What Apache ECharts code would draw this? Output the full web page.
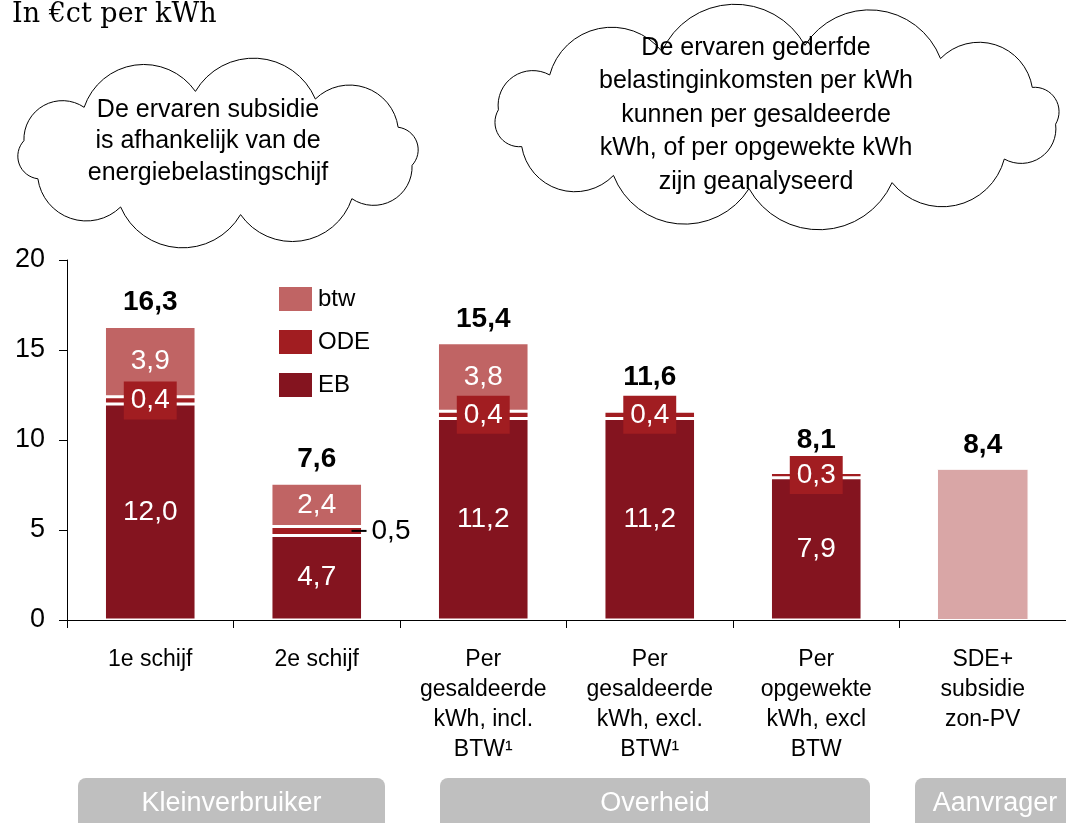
<!DOCTYPE html>
<html>
<head>
<meta charset="utf-8">
<script src="https://cdn.jsdelivr.net/npm/echarts@6/dist/echarts.min.js"></script>
<style>
  html, body { margin: 0; padding: 0; background: #fff; }
  #chart { width: 1066px; height: 823px; }
</style>
</head>
<body>
<div id="chart"></div>
<script>
// Data
const categories = [
  "1e schijf",
  "2e schijf",
  "Per\ngesaldeerde\nkWh, incl.\nBTW¹",
  "Per\ngesaldeerde\nkWh, excl.\nBTW¹",
  "Per\nopgewekte\nkWh, excl\nBTW",
  "SDE+\nsubsidie\nzon-PV"
];
const eb = [12.0, 4.7, 11.2, 11.2, 7.9, null];
const ode = [0.4, 0.5, 0.4, 0.4, 0.3, null];
const btw = [3.9, 2.4, 3.8, null, null, null];
const sde = [null, null, null, null, null, 8.4];
const totals = [16.3, 7.6, 15.4, 11.6, 8.1, 8.4];
const yTicks = { min: 0, max: 20, interval: 5 };

const c_eb = "#84141f";
const c_ode = "#a11d21";
const c_btw = "#c06464";
const c_sde = "#d9a6a6";
const font = "Liberation Sans, Arial, sans-serif";

// Dutch decimal comma
function nl(v) {
  return v.toFixed(1).replace(".", ",");
}

// Cloud outline: round bumps between points on an ellipse, as a point list
function cloudPoints(cx, cy, rx, ry, n, phase) {
  let pts = [];
  for (let i = 0; i < n; i++) {
    let a = phase + (i * 2 * Math.PI) / n;
    pts.push([cx + rx * Math.cos(a), cy + ry * Math.sin(a)]);
  }
  let out = [];
  for (let i = 0; i < n; i++) {
    let q = pts[i];
    let p = pts[(i + 1) % n];
    let dx = p[0] - q[0];
    let dy = p[1] - q[1];
    let c = Math.hypot(dx, dy);
    let r = c * 0.56;
    let h = Math.sqrt(r * r - (c / 2) * (c / 2));
    let nx = dy / c;
    let ny = -dx / c;
    let mx = (p[0] + q[0]) / 2 - nx * h;
    let my = (p[1] + q[1]) / 2 - ny * h;
    let a0 = Math.atan2(q[1] - my, q[0] - mx);
    let a1 = Math.atan2(p[1] - my, p[0] - mx);
    if (a1 < a0) a1 += 2 * Math.PI;
    for (let k = 0; k < 16; k++) {
      let a = a0 + ((a1 - a0) * k) / 16;
      out.push([mx + r * Math.cos(a), my + r * Math.sin(a)]);
    }
  }
  return out;
}

function cloudText(x, y, text, lh) {
  return {
    type: "text",
    x: x,
    y: y,
    z: 10,
    style: {
      text: text,
      fill: "#000",
      font: "25px " + font,
      textAlign: "center",
      textVerticalAlign: "top",
      lineHeight: lh
    }
  };
}

function groupBox(x, w, text) {
  return {
    type: "group",
    children: [
      {
        type: "rect",
        shape: { x: x, y: 778, width: w, height: 60, r: 8 },
        style: { fill: "#bfbfbf" }
      },
      {
        type: "text",
        x: x + w / 2,
        y: 804,
        style: {
          text: text,
          fill: "#fff",
          font: "27px " + font,
          textAlign: "center",
          textVerticalAlign: "middle"
        }
      }
    ]
  };
}

const odeLabel = {
  show: true,
  position: "inside",
  color: "#fff",
  fontSize: 28,
  fontFamily: font,
  backgroundColor: c_ode,
  padding: [5, 7],
  lineHeight: 28,
  formatter: (p) => nl(p.value)
};

const odeData = ode.map((v, i) => {
  if (i === 1) {
    return {
      value: v,
      label: {
        show: true,
        position: "right",
        distance: -11,
        backgroundColor: "transparent",
        padding: 0,
        formatter: "{ln|}{v|" + nl(v) + "}",
        rich: {
          ln: { width: 15, height: 2, backgroundColor: "#000" },
          v: { color: "#000", fontSize: 28, fontFamily: font, padding: [0, 0, 0, 5] }
        }
      }
    };
  }
  return v;
});

// totals sit higher where an ODE box is the top segment
const totalData = totals.map((v, i) =>
  i === 3 || i === 4 ? { value: v, label: { distance: 20 } } : v
);

let myChart = echarts.init(document.getElementById("chart"));

let option = {
  animation: false,
  textStyle: { fontFamily: font },
  grid: { left: 67, right: -6, top: 260, bottom: 203 },
  legend: {
    data: ["btw", "ODE", "EB"],
    orient: "vertical",
    left: 272,
    top: 280,
    itemWidth: 35,
    itemHeight: 26,
    itemGap: 15,
    icon: "rect",
    selectedMode: false,
    textStyle: { fontSize: 24, color: "#000", fontFamily: font }
  },
  xAxis: {
    type: "category",
    data: categories,
    axisLine: { lineStyle: { color: "#000", width: 1 } },
    axisTick: { show: true, length: 8, lineStyle: { color: "#000" } },
    axisLabel: {
      color: "#000",
      fontSize: 23,
      lineHeight: 30,
      margin: 25,
      fontFamily: font,
      interval: 0
    }
  },
  yAxis: {
    type: "value",
    min: yTicks.min,
    max: yTicks.max,
    interval: yTicks.interval,
    axisLine: { show: true, lineStyle: { color: "#000", width: 1 } },
    axisTick: { show: true, length: 8, lineStyle: { color: "#000" } },
    splitLine: { show: false },
    axisLabel: { color: "#000", fontSize: 27, margin: 22, fontFamily: font }
  },
  series: [
    {
      name: "total",
      type: "bar",
      data: totalData,
      barWidth: "55%",
      barGap: "-100%",
      silent: true,
      itemStyle: { color: "rgba(0,0,0,0)" },
      label: {
        show: true,
        position: "top",
        distance: 10,
        color: "#000",
        fontSize: 28,
        fontWeight: "bold",
        fontFamily: font,
        formatter: (p) => nl(p.value)
      },
      z: 4
    },
    {
      name: "EB",
      type: "bar",
      stack: "t",
      data: eb,
      barWidth: "55%",
      barGap: "-100%",
      itemStyle: { color: c_eb, borderColor: "#fff", borderWidth: 1.5 },
      label: {
        show: true,
        position: "inside",
        color: "#fff",
        fontSize: 28,
        fontFamily: font,
        formatter: (p) => nl(p.value)
      }
    },
    {
      name: "ODE",
      type: "bar",
      stack: "t",
      data: odeData,
      barWidth: "55%",
      barGap: "-100%",
      itemStyle: { color: c_ode, borderColor: "#fff", borderWidth: 1.5 },
      label: odeLabel,
      z: 3
    },
    {
      name: "btw",
      type: "bar",
      stack: "t",
      data: btw,
      barWidth: "55%",
      barGap: "-100%",
      itemStyle: { color: c_btw, borderColor: "#fff", borderWidth: 1.5 },
      label: {
        show: true,
        position: "inside",
        color: "#fff",
        fontSize: 28,
        fontFamily: font,
        formatter: (p) => nl(p.value)
      }
    },
    {
      name: "SDE+",
      type: "bar",
      stack: "t",
      data: sde,
      barWidth: "55%",
      barGap: "-100%",
      itemStyle: { color: c_sde, borderColor: "#fff", borderWidth: 1 }
    }
  ],
  graphic: [
    {
      type: "text",
      x: 12,
      y: 1,
      style: {
        text: "In €ct per kWh",
        fill: "#000",
        font: "27px DejaVu Serif, serif"
      }
    },
    {
      type: "polygon",
      shape: { points: cloudPoints(218, 153, 198, 62, 10, 0.2) },
      style: { fill: "#fff", stroke: "#000", lineWidth: 1 }
    },
    cloudText(208, 94, "De ervaren subsidie\nis afhankelijk van de\nenergiebelastingschijf", 31.5),
    {
      type: "polygon",
      shape: { points: cloudPoints(777, 117, 280, 72, 12, 0.1) },
      style: { fill: "#fff", stroke: "#000", lineWidth: 1 }
    },
    cloudText(756, 31, "De ervaren gederfde\nbelastinginkomsten per kWh\nkunnen per gesaldeerde\nkWh, of per opgewekte kWh\nzijn geanalyseerd", 33.5),
    groupBox(78, 307, "Kleinverbruiker"),
    groupBox(440, 430, "Overheid"),
    groupBox(915, 160, "Aanvrager")
  ]
};

myChart.setOption(option);
</script>
</body>
</html>
